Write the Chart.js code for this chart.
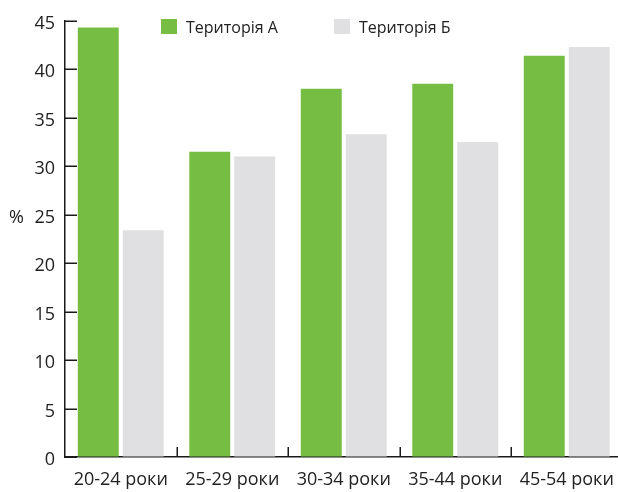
<!DOCTYPE html>
<html lang="uk">
<head>
<meta charset="utf-8">
<title>Територія А / Територія Б</title>
<script src="https://cdn.jsdelivr.net/npm/chart.js@4.4.1/dist/chart.umd.min.js"></script>
<style>
  html, body { margin: 0; padding: 0; background: #ffffff; overflow: hidden; }
  #wrap { width: 624px; height: 492px; }
</style>
</head>
<body>
<div id="wrap"><canvas id="chart" width="624" height="492"></canvas></div>
<script>
// Age groups along the x axis
const categories = ['20-24 роки', '25-29 роки', '30-34 роки', '35-44 роки', '45-54 роки'];
// Series values, %
const territoryA = [44.3, 31.5, 38.0, 38.5, 41.4];
const territoryB = [23.4, 31.0, 33.3, 32.5, 42.3];
// Series names
const seriesNames = ['Територія А', 'Територія Б'];
// Y axis range and step
const yMin = 0;
const yMax = 45;
const yStep = 5;
const yUnit = '%';

const GREEN = '#76be43';
const GREY = '#e0e0e2';
const AXIS = '#1a1a1a';
const TEXT = '#222222';
const FONT = "'Open Sans', 'Noto Sans', sans-serif";

// Inward tick marks, unit label and the legend row
const decorations = {
  id: 'decorations',
  afterDatasetsDraw(chart) {
    const { ctx, chartArea, scales } = chart;
    const x = scales.x, y = scales.y;
    ctx.save();
    ctx.strokeStyle = AXIS;
    ctx.lineWidth = 1.5;
    // y ticks pointing right into the plot
    for (let v = yMin; v <= yMax; v += yStep) {
      const py = Math.round(y.getPixelForValue(v)) + 0.25;
      ctx.beginPath();
      ctx.moveTo(chartArea.left, py);
      ctx.lineTo(chartArea.left + 12, py);
      ctx.stroke();
    }
    // x ticks between categories pointing up
    for (let i = 1; i < categories.length; i++) {
      const px = Math.round((x.getPixelForValue(i - 1) + x.getPixelForValue(i)) / 2) + 0.25;
      ctx.beginPath();
      ctx.moveTo(px, chartArea.bottom);
      ctx.lineTo(px, chartArea.bottom - 10);
      ctx.stroke();
    }
    // unit label beside the 25 tick
    ctx.fillStyle = TEXT;
    ctx.font = '18px ' + FONT;
    ctx.textAlign = 'left';
    ctx.textBaseline = 'middle';
    ctx.fillText(yUnit, 9, y.getPixelForValue(25) + 3);

    // legend
    const items = [
      { x: 161, color: chart.data.datasets[0].backgroundColor, text: chart.data.datasets[0].label },
      { x: 334, color: chart.data.datasets[1].backgroundColor, text: chart.data.datasets[1].label }
    ];
    ctx.font = '16px ' + FONT;
    items.forEach(it => {
      ctx.fillStyle = it.color;
      ctx.fillRect(it.x, 19, 16, 15);
      ctx.fillStyle = TEXT;
      ctx.fillText(it.text, it.x + 25, 28);
    });
    ctx.restore();
  }
};

new Chart(document.getElementById('chart'), {
  type: 'bar',
  data: {
    labels: categories,
    datasets: [
      { label: seriesNames[0], data: territoryA, backgroundColor: GREEN, borderWidth: 0 },
      { label: seriesNames[1], data: territoryB, backgroundColor: GREY, borderWidth: 0 }
    ]
  },
  options: {
    responsive: false,
    animation: false,
    devicePixelRatio: 1,
    layout: { padding: { top: 17, right: 1.5, left: 0, bottom: 0 } },
    datasets: {
      bar: { categoryPercentage: 0.807, barPercentage: 0.91 }
    },
    plugins: {
      legend: { display: false },
      tooltip: { enabled: false }
    },
    scales: {
      x: {
        grid: { drawOnChartArea: false, drawTicks: false, offset: true },
        border: { display: true, color: AXIS, width: 1.5 },
        ticks: { color: TEXT, font: { family: FONT, size: 18 }, padding: 12, maxRotation: 0, autoSkip: false },
        afterFit(scale) {
          scale.height = 35;
          scale.paddingLeft = 0;
          scale.paddingRight = 0;
        }
      },
      y: {
        min: yMin,
        max: yMax,
        grid: { drawOnChartArea: false, drawTicks: false },
        border: { display: true, color: AXIS, width: 1.5 },
        ticks: { stepSize: yStep, color: TEXT, font: { family: FONT, size: 18 }, padding: 10, labelOffset: 3 },
        afterFit(scale) { scale.width = 65; }
      }
    }
  },
  plugins: [decorations]
});
</script>
</body>
</html>
